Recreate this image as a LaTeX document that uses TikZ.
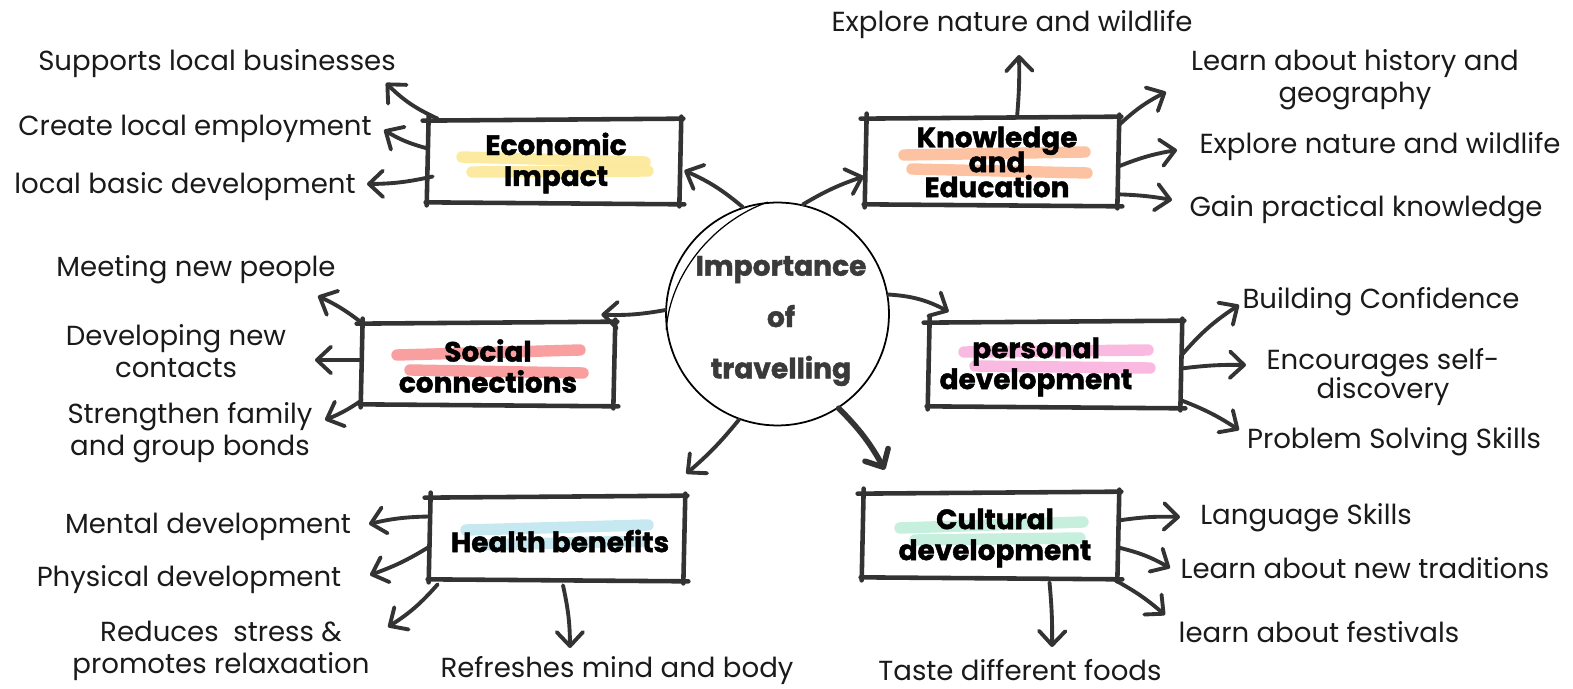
\documentclass[tikz,border=0pt]{standalone}
\usepackage{fontspec}
\setmainfont{Poppins}[BoldFeatures={FakeBold=1.5}]
\usetikzlibrary{arrows.meta}
\definecolor{ink}{HTML}{333333}
\definecolor{txt}{HTML}{1A1A1A}
\definecolor{cintxt}{HTML}{3A3A3A}
\definecolor{hyel}{HTML}{FBE99A}
\definecolor{hpeach}{HTML}{FDBF9C}
\definecolor{hsalmon}{HTML}{F99A9A}
\definecolor{hpink}{HTML}{F9B5DE}
\definecolor{hblue}{HTML}{C3E8F0}
\definecolor{hmint}{HTML}{C3EEDC}
\newcommand{\tightlines}{\lineskiplimit=-30pt\relax}
\newcommand{\skbox}[1]{%
  \draw[skl] ([shift={(-5,1)}]#1.north west) -- ([shift={(3,-1)}]#1.north east);
  \draw[skl] ([shift={(1,-3)}]#1.north east) -- ([shift={(-1,3)}]#1.south east);
  \draw[skl] ([shift={(4,1)}]#1.south east) -- ([shift={(-2,-1)}]#1.south west);
  \draw[skl] ([shift={(-1,2)}]#1.south west) -- ([shift={(1,-4)}]#1.north west);}
\begin{document}
\begin{tikzpicture}[x=0.02cm,y=-0.02cm,
  lbl/.style={font=\fontsize{15.7}{18.1}\selectfont, text=txt, align=center, inner sep=0},
  ttl/.style={font=\fontsize{15.9}{17.6}\selectfont\bfseries, text=black, align=center, inner sep=0},
  boxn/.style={rectangle, inner sep=0, draw=none},
  skl/.style={draw=ink, line width=2.6pt, line cap=round},
  hl/.style={line width=6.5pt, line cap=round, opacity=0.95},
  arr/.style={draw=ink, line width=2.2pt, line cap=round, -{Straight Barb[length=8pt,width=15pt,round]}},
  arrb/.style={draw=ink, line width=3.2pt, line cap=round, -{Straight Barb[length=8pt,width=15pt,round]}}
]
\useasboundingbox (0,0) rectangle (1573,689);

% highlights
\draw[hl, hyel] (462,157) -- (645,162);
\draw[hl, hyel] (472,172) -- (648,171);
\draw[hl, hpeach] (904,155) -- (1085,152);
\draw[hl, hpeach] (912,169) -- (1087,173);
\draw[hl, hsalmon] (397,355) -- (580,350);
\draw[hl, hsalmon] (410,370) -- (583,373);
\draw[hl, hpink] (964,352) -- (1148,350);
\draw[hl, hpink] (975,366) -- (1150,368);
\draw[hl, hblue] (466,530) -- (648,525);
\draw[hl, hblue] (478,545) -- (645,541);
\draw[hl, hmint] (900,528) -- (1083,522);
\draw[hl, hmint] (915,540) -- (1080,538);

% boxes
\node[boxn, minimum width=5.04cm, minimum height=1.66cm] (eco) at (554,161.5) {};
\node[boxn, minimum width=5.04cm, minimum height=1.74cm] (know) at (992,161.5) {};
\node[boxn, minimum width=5.04cm, minimum height=1.64cm] (soc) at (488,364) {};
\node[boxn, minimum width=5.04cm, minimum height=1.70cm] (pers) at (1055,364.5) {};
\node[boxn, minimum width=5.08cm, minimum height=1.66cm] (hea) at (557,538.5) {};
\node[boxn, minimum width=5.10cm, minimum height=1.70cm] (cul) at (990.5,535.5) {};
\skbox{eco}\skbox{know}\skbox{soc}\skbox{pers}\skbox{hea}\skbox{cul}

\node[ttl] (ecot) at (556,163) {Economic\\Impact};
\node[ttl, font=\fontsize{15.9}{14.2}\selectfont\bfseries\tightlines] (knowt) at (997,162) {Knowledge\\and\\Education};
\node[ttl] (soct) at (488,366) {Social\\connections};
\node[ttl] (perst) at (1036,367) {personal\\development};
\node[ttl] (heat) at (560,541) {Health benefits};
\node[ttl] (cult) at (995,538) {Cultural\\development};

% centre
\node[circle, minimum size=4.46cm, inner sep=0, draw=black, line width=1pt] (c) at (777.5,314) {};
\draw[black, line width=0.7pt] (c.95) .. controls (712,222) and (670,275) .. (c.188);
\node[font=\fontsize{16}{29.2}\selectfont\bfseries, text=cintxt, align=center, inner sep=0] (ct) at (781,321) {Importance\\of\\travelling};

% labels
\node[lbl] (e1) at (217,64) {Supports local businesses};
\node[lbl] (e2) at (195,129) {Create local employment};
\node[lbl] (e3) at (185,187) {local basic development};
\node[lbl] (k1) at (1012,25) {Explore nature and wildlife};
\node[lbl] (k2) at (1355,80) {Learn about history and\\geography};
\node[lbl] (k3) at (1380,147) {Explore nature and wildlife};
\node[lbl] (k4) at (1366,210) {Gain practical knowledge};
\node[lbl] (s1) at (196,270) {Meeting new people};
\node[lbl] (s2) at (176,351) {Developing new\\contacts};
\node[lbl] (s3) at (190,433) {Strengthen family\\and group bonds};
\node[lbl] (p1) at (1381,302) {Building Confidence};
\node[lbl, font=\fontsize{15.7}{16.5}\selectfont] (p2) at (1383,377) {Encourages self-\\discovery};
\node[lbl] (p3) at (1394,442) {Problem Solving Skills};
\node[lbl] (h1) at (208,527) {Mental development};
\node[lbl] (h2) at (189,580) {Physical development};
\node[lbl] (h3) at (221,651) {Reduces~ stress \&\\promotes relaxaation};
\node[lbl] (h4) at (617,671) {Refreshes mind and body};
\node[lbl] (u1) at (1306,518) {Language Skills};
\node[lbl] (u2) at (1365,568) {Learn about new traditions};
\node[lbl] (u3) at (1319,632) {learn about festivals};
\node[lbl, anchor=base] (u4) at (1020,680) {Taste different foods};

% arrow tips
\coordinate (te1) at (386,83);
\coordinate (te2) at (384,130);
\coordinate (te3) at (367,184);
\coordinate (tk1) at (1019,55);
\coordinate (tk2) at (1166,92);
\coordinate (tk3) at (1177,150);
\coordinate (tk4) at (1172,200);
\coordinate (ts1) at (318,296);
\coordinate (ts2) at (315,360);
\coordinate (ts3) at (325,420);
\coordinate (tp1) at (1239,305);
\coordinate (tp2) at (1246,365);
\coordinate (tp3) at (1239,430);
\coordinate (th1) at (369,524);
\coordinate (th2) at (370,575);
\coordinate (th3) at (388,627);
\coordinate (th4) at (570,648);
\coordinate (tu1) at (1180,517);
\coordinate (tu2) at (1170,568);
\coordinate (tu3) at (1165,615);
\coordinate (tu4) at (1052,647);

% centre to boxes
\draw[arr] (c.108) to[bend right=8] ([shift={(4,9)}]eco.east);
\draw[arr] (c.77) to[bend left=6] ([shift={(-2,15)}]know.west);
\draw[arr] (c.178) to[bend left=6] ([shift={(-13,-8)}]soc.north east);
\draw[arr] (c.10) to[bend left=12] ([shift={(20,-10)}]pers.north west);
\draw[arr] (c.250) to[bend left=5] ([shift={(2,-23)}]hea.north east);
\draw[arrb] (c.303) to[bend left=8] ([shift={(22,-23)}]cul.north west);

% economic
\draw[arr] ([shift={(10,-1)}]eco.north west) to[bend left=10] (te1);
\draw[arr] ([shift={(0,-13)}]eco.west) to[bend left=8] (te2);
\draw[arr] ([shift={(5,15)}]eco.west) to[bend left=6] (te3);
% knowledge
\draw[arr] ([shift={(25,0)}]know.north) to[bend right=3] (tk1);
\draw[arr] ([shift={(0,8)}]know.north east) to[bend left=8] (tk2);
\draw[arr] ([shift={(0,5)}]know.east) to[bend left=6] (tk3);
\draw[arr] ([shift={(0,-11)}]know.south east) to[bend left=4] (tk4);
% social
\draw[arr] (soc.north west) to[bend right=6] (ts1);
\draw[arr] ([shift={(0,-4)}]soc.west) -- (ts2);
\draw[arr] ([shift={(0,-5)}]soc.south west) to[bend left=6] (ts3);
% personal
\draw[arr] ([shift={(0,-9)}]pers.east) to[bend left=8] (tp1);
\draw[arr] ([shift={(0,4)}]pers.east) to[bend left=4] (tp2);
\draw[arr] ([shift={(0,-7)}]pers.south east) to[bend left=6] (tp3);
% health
\draw[arr] ([shift={(0,-22)}]hea.west) to[bend right=6] (th1);
\draw[arr] ([shift={(0,8)}]hea.west) to[bend left=6] (th2);
\draw[arr] ([shift={(8,4)}]hea.south west) to[bend left=8] (th3);
\draw[arr] ([shift={(6,5)}]hea.south) to[bend left=6] (th4);
% cultural
\draw[arr] ([shift={(0,-15)}]cul.east) to[bend left=5] (tu1);
\draw[arr] ([shift={(0,12)}]cul.east) to[bend left=8] (tu2);
\draw[arr] ([shift={(-3,2)}]cul.south east) to[bend left=6] (tu3);
\draw[arr] ([shift={(59,4)}]cul.south) to[bend left=3] (tu4);
\end{tikzpicture}
\end{document}
